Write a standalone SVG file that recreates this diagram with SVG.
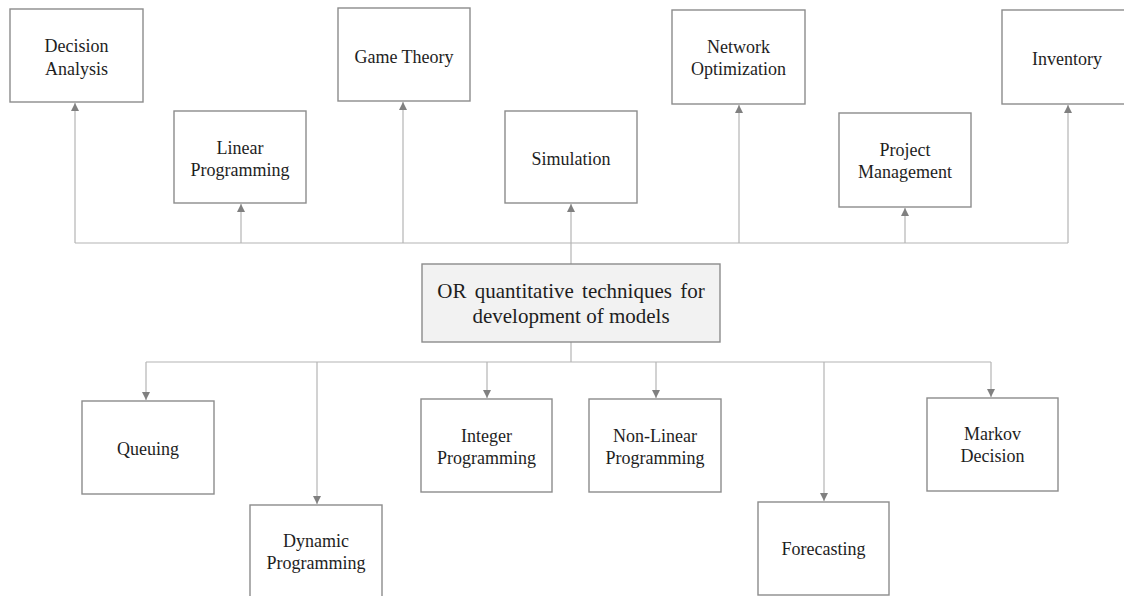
<svg xmlns="http://www.w3.org/2000/svg" width="1124" height="596" viewBox="0 0 1124 596">
  <style>
    .box { fill: #ffffff; stroke: #8c8c8c; stroke-width: 1.4; }
    .root { fill: #f2f2f2; stroke: #8c8c8c; stroke-width: 1.4; }
    .lbl { font-family: "Liberation Serif", "Times New Roman", serif; font-size: 18px; fill: #1e1e1e; text-anchor: middle; }
    .rootlbl { font-family: "Liberation Serif", "Times New Roman", serif; font-size: 21px; fill: #1e1e1e; text-anchor: middle; }
    .wire { fill: none; stroke: #b4b4b4; stroke-width: 1.2; }
  </style>
  <defs>
    <marker id="tip" viewBox="0 0 8 8" refX="8" refY="4" markerWidth="8" markerHeight="8" markerUnits="userSpaceOnUse" orient="auto">
      <path d="M0,0 L8,4 L0,8 Z" fill="#808080"/>
    </marker>
  </defs>

  <rect width="1124" height="596" fill="#ffffff"/>

  <!-- connectors -->
  <g id="connectors">
    <!-- upper branch -->
    <path class="wire" d="M571,264 V243"/>
    <path class="wire" d="M75,243 H1068"/>
    <path class="wire" d="M75,243 V103" marker-end="url(#tip)"/>
    <path class="wire" d="M241,243 V204" marker-end="url(#tip)"/>
    <path class="wire" d="M403,243 V102" marker-end="url(#tip)"/>
    <path class="wire" d="M571,243 V204" marker-end="url(#tip)"/>
    <path class="wire" d="M739,243 V105" marker-end="url(#tip)"/>
    <path class="wire" d="M905,243 V208" marker-end="url(#tip)"/>
    <path class="wire" d="M1068,243 V105" marker-end="url(#tip)"/>
    <!-- lower branch -->
    <path class="wire" d="M571,342 V362"/>
    <path class="wire" d="M146,362 H991"/>
    <path class="wire" d="M146,362 V400" marker-end="url(#tip)"/>
    <path class="wire" d="M317,362 V504" marker-end="url(#tip)"/>
    <path class="wire" d="M487,362 V398" marker-end="url(#tip)"/>
    <path class="wire" d="M656,362 V398" marker-end="url(#tip)"/>
    <path class="wire" d="M824,362 V501" marker-end="url(#tip)"/>
    <path class="wire" d="M991,362 V397" marker-end="url(#tip)"/>
  </g>

  <!-- central node -->
  <g id="root">
    <rect class="root" x="422" y="264" width="298" height="78"/>
    <text class="rootlbl" x="571" y="298" word-spacing="3">OR quantitative techniques for</text>
    <text class="rootlbl" x="571" y="323">development of models</text>
  </g>

  <!-- upper nodes -->
  <g id="decision-analysis">
    <rect class="box" x="10" y="9" width="133" height="93"/>
    <text class="lbl" x="76.5" y="52">Decision</text>
    <text class="lbl" x="76.5" y="75">Analysis</text>
  </g>
  <g id="linear-programming">
    <rect class="box" x="174" y="111" width="132" height="92"/>
    <text class="lbl" x="240" y="154">Linear</text>
    <text class="lbl" x="240" y="176">Programming</text>
  </g>
  <g id="game-theory">
    <rect class="box" x="338" y="8" width="132" height="93"/>
    <text class="lbl" x="404" y="63">Game Theory</text>
  </g>
  <g id="simulation">
    <rect class="box" x="505" y="111" width="132" height="92"/>
    <text class="lbl" x="571" y="165">Simulation</text>
  </g>
  <g id="network-optimization">
    <rect class="box" x="672" y="10" width="133" height="94"/>
    <text class="lbl" x="738.5" y="53">Network</text>
    <text class="lbl" x="738.5" y="75">Optimization</text>
  </g>
  <g id="project-management">
    <rect class="box" x="839" y="113" width="132" height="94"/>
    <text class="lbl" x="905" y="156">Project</text>
    <text class="lbl" x="905" y="178">Management</text>
  </g>
  <g id="inventory">
    <rect class="box" x="1002" y="10" width="132" height="94"/>
    <text class="lbl" x="1067" y="65">Inventory</text>
  </g>

  <!-- lower nodes -->
  <g id="queuing">
    <rect class="box" x="82" y="401" width="132" height="93"/>
    <text class="lbl" x="148" y="455">Queuing</text>
  </g>
  <g id="dynamic-programming">
    <rect class="box" x="250" y="505" width="132" height="94"/>
    <text class="lbl" x="316" y="547">Dynamic</text>
    <text class="lbl" x="316" y="569">Programming</text>
  </g>
  <g id="integer-programming">
    <rect class="box" x="421" y="399" width="131" height="93"/>
    <text class="lbl" x="486.5" y="442">Integer</text>
    <text class="lbl" x="486.5" y="464">Programming</text>
  </g>
  <g id="non-linear-programming">
    <rect class="box" x="589" y="399" width="132" height="93"/>
    <text class="lbl" x="655" y="442">Non-Linear</text>
    <text class="lbl" x="655" y="464">Programming</text>
  </g>
  <g id="forecasting">
    <rect class="box" x="758" y="502" width="131" height="93"/>
    <text class="lbl" x="823.5" y="555">Forecasting</text>
  </g>
  <g id="markov-decision">
    <rect class="box" x="927" y="398" width="131" height="93"/>
    <text class="lbl" x="992.5" y="440">Markov</text>
    <text class="lbl" x="992.5" y="462">Decision</text>
  </g>
</svg>
